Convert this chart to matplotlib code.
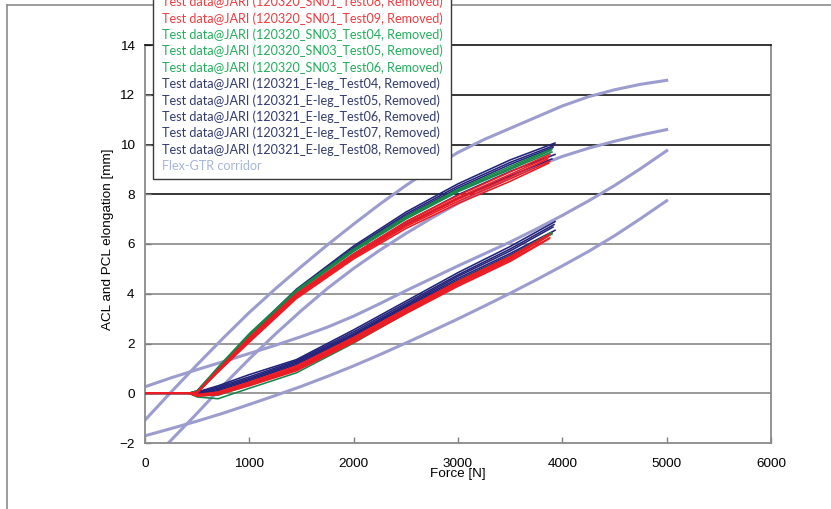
import matplotlib.pyplot as plt
from matplotlib.lines import Line2D
from matplotlib.patches import Rectangle

plt.rcParams["font.family"] = ["Liberation Sans", "DejaVu Sans"]

# force points shared by the test curves [N]
force = [0, 420, 500, 700, 1000, 1450, 2000, 2500, 3000, 3500, 3900]

test_labels = [
    "Test data@JARI (120320_SN01_Test05, Removed)",
    "Test data@JARI (120320_SN01_Test06, Removed)",
    "Test data@JARI (120320_SN01_Test07, Removed)",
    "Test data@JARI (120320_SN01_Test08, Removed)",
    "Test data@JARI (120320_SN01_Test09, Removed)",
    "Test data@JARI (120320_SN03_Test04, Removed)",
    "Test data@JARI (120320_SN03_Test05, Removed)",
    "Test data@JARI (120320_SN03_Test06, Removed)",
    "Test data@JARI (120321_E-leg_Test04, Removed)",
    "Test data@JARI (120321_E-leg_Test05, Removed)",
    "Test data@JARI (120321_E-leg_Test06, Removed)",
    "Test data@JARI (120321_E-leg_Test07, Removed)",
    "Test data@JARI (120321_E-leg_Test08, Removed)",
]
groups = ["red"] * 5 + ["green"] * 3 + ["navy"] * 5
end_force = [3880, 3870, 3860, 3880, 3870, 3900, 3890, 3900, 3930, 3920, 3910, 3930, 3900]

# ACL elongation [mm]
acl = [
    [0, 0, 0.05, 0.95, 2.25, 4.0, 5.6, 6.9, 7.95, 8.9, 9.6],
    [0, 0, 0.04, 0.93, 2.2, 3.95, 5.55, 6.82, 7.87, 8.8, 9.5],
    [0, 0, 0.03, 0.9, 2.15, 3.9, 5.5, 6.75, 7.8, 8.7, 9.42],
    [0, 0, 0.02, 0.88, 2.1, 3.85, 5.45, 6.7, 7.72, 8.62, 9.33],
    [0, 0, 0.01, 0.85, 2.05, 3.8, 5.4, 6.62, 7.63, 8.52, 9.25],
    [0, 0, 0.1, 1.05, 2.4, 4.15, 5.8, 7.1, 8.2, 9.12, 9.82],
    [0, 0, 0.08, 1.0, 2.35, 4.1, 5.75, 7.05, 8.15, 9.05, 9.76],
    [0, 0, 0.06, 0.98, 2.3, 4.05, 5.7, 7.0, 8.1, 9.0, 9.7],
    [0, 0, 0.1, 1.0, 2.35, 4.18, 5.92, 7.28, 8.42, 9.38, 10.06],
    [0, 0, 0.08, 0.98, 2.3, 4.12, 5.85, 7.2, 8.33, 9.28, 9.96],
    [0, 0, 0.06, 0.96, 2.28, 4.08, 5.8, 7.13, 8.25, 9.2, 9.88],
    [0, 0, 0.04, 0.92, 2.2, 3.95, 5.6, 6.88, 7.98, 8.92, 9.6],
    [0, 0, 0.02, 0.88, 2.12, 3.88, 5.5, 6.78, 7.82, 8.74, 9.42],
]

# PCL elongation [mm]
pcl = [
    [0, 0, -0.05, 0.05, 0.45, 1.1, 2.25, 3.4, 4.5, 5.5, 6.4],
    [0, 0, -0.08, 0.0, 0.4, 1.05, 2.2, 3.35, 4.45, 5.45, 6.35],
    [0, 0, -0.1, 0.0, 0.4, 1.0, 2.15, 3.3, 4.4, 5.4, 6.3],
    [0, 0, -0.1, -0.05, 0.35, 0.95, 2.1, 3.25, 4.35, 5.35, 6.25],
    [0, 0, -0.12, -0.05, 0.3, 0.9, 2.05, 3.2, 4.3, 5.3, 6.2],
    [0, 0, -0.15, -0.22, 0.2, 0.82, 2.02, 3.22, 4.42, 5.45, 6.4],
    [0, 0, -0.1, -0.08, 0.32, 0.95, 2.15, 3.3, 4.5, 5.5, 6.45],
    [0, 0, -0.08, 0.0, 0.4, 1.0, 2.2, 3.35, 4.5, 5.5, 6.45],
    [0, 0, 0.05, 0.3, 0.75, 1.35, 2.55, 3.7, 4.85, 5.9, 6.9],
    [0, 0, 0.02, 0.25, 0.66, 1.3, 2.47, 3.62, 4.76, 5.8, 6.78],
    [0, 0, 0.0, 0.2, 0.6, 1.25, 2.4, 3.55, 4.7, 5.72, 6.68],
    [0, 0, 0.0, 0.15, 0.55, 1.2, 2.35, 3.5, 4.62, 5.62, 6.55],
    [0, 0, -0.02, 0.1, 0.5, 1.15, 2.3, 3.45, 4.55, 5.55, 6.45],
]

# Flex-GTR corridor, four bounds, read every 250 N
cor_x = [0, 250, 500, 750, 1000, 1250, 1500, 1750, 2000, 2250, 2500,
         2750, 3000, 3250, 3500, 3750, 4000, 4250, 4500, 4750, 5000]
cor_a_y = [-1.08, 0.05, 1.15, 2.22, 3.25, 4.2, 5.1, 5.97, 6.8, 7.6, 8.35,
           9.05, 9.68, 10.2, 10.65, 11.1, 11.55, 11.92, 12.2, 12.42, 12.58]
cor_c_y = [0.26, 0.62, 0.95, 1.27, 1.6, 1.93, 2.28, 2.66, 3.1, 3.6, 4.12,
           4.62, 5.12, 5.6, 6.08, 6.6, 7.15, 7.73, 8.35, 9.03, 9.75]
cor_d_y = [-1.71, -1.42, -1.12, -0.8, -0.45, -0.09, 0.28, 0.68, 1.1, 1.55, 2.02,
           2.5, 2.99, 3.5, 4.02, 4.56, 5.12, 5.7, 6.33, 7.02, 7.74]
cor_b_x = [224, 500, 750, 1000, 1250, 1500, 1750, 2000, 2250, 2500,
           2750, 3000, 3250, 3500, 3750, 4000, 4250, 4500, 4750, 5000]
cor_b_y = [-2.0, -0.8, 0.32, 1.38, 2.38, 3.33, 4.22, 5.02, 5.75, 6.42,
           7.05, 7.63, 8.17, 8.67, 9.12, 9.52, 9.85, 10.13, 10.38, 10.6]

line_colors = {"red": "#ED1C24", "green": "#17864A", "navy": "#22227A"}
text_colors = {"red": "#F03C40", "green": "#22AE5C", "navy": "#323A6C"}
corridor_color = "#9C9CCF"

W, H = 831, 509
fig = plt.figure(figsize=(W / 100, H / 100), dpi=100)
ax = fig.add_axes([145 / W, 1 - 443 / H, 626 / W, 398 / H])

# outer chart-area frame, only its left and top edges fall inside the picture
fig.add_artist(Line2D([7 / W, 7 / W], [0, 1 - 5 / H], transform=fig.transFigure, color="#8C8C8C", lw=1.2))
fig.add_artist(Line2D([7 / W, 1], [1 - 5 / H, 1 - 5 / H], transform=fig.transFigure, color="#8C8C8C", lw=1.2))

for yv in range(0, 14, 2):
    ax.axhline(yv, color="black" if yv >= 8 else "#7F7F7F", lw=1.1, zorder=1)

for cx, cy in [(cor_x, cor_a_y), (cor_b_x, cor_b_y), (cor_x, cor_c_y), (cor_x, cor_d_y)]:
    ax.plot(cx, cy, color=corridor_color, lw=2.2, zorder=2)

# navy first, red on top
for g in ["navy", "green", "red"]:
    for i in range(len(test_labels)):
        if groups[i] != g:
            continue
        fx = force[:-1] + [end_force[i]]
        ax.plot(fx, acl[i], color=line_colors[g], lw=1.15, zorder=3)
        ax.plot(fx, pcl[i], color=line_colors[g], lw=1.15, zorder=3)

ax.set_xlim(0, 6000)
ax.set_ylim(-2, 14)
ax.set_xticks(range(0, 6001, 1000))
ax.set_yticks(range(-2, 15, 2))
ax.tick_params(axis="both", direction="in", length=4, width=1, color="#808080",
               labelsize=9.7, labelcolor="black")
ax.tick_params(axis="x", pad=10.5)
ax.tick_params(axis="y", pad=7.5)
for s in ["left", "bottom", "right"]:
    ax.spines[s].set_color("#8A8A8A")
    ax.spines[s].set_linewidth(1.3)
ax.spines["top"].set_color("black")
ax.spines["top"].set_linewidth(1.1)

ax.set_xlabel("Force [N]", fontsize=9.7)
ax.xaxis.set_label_coords(0.5, -0.064)
ax.set_ylabel("ACL and PCL elongation [mm]", fontsize=9.7)
ax.yaxis.set_label_coords(-0.05, 0.512)

# legend box (its top runs past the figure edge)
fig.patches.append(Rectangle((153 / W, 1 - 179 / H), (451 - 153) / W, 0.5, transform=fig.transFigure,
                             facecolor="white", edgecolor="#3A3A3A", lw=1.0, zorder=5))
entries = [(lab, text_colors[g]) for lab, g in zip(test_labels, groups)]
entries.append(("Flex-GTR corridor", "#A7B5DA"))
n = len(entries)
for k, (lab, c) in enumerate(entries):
    yc = 166 - (n - 1 - k) * 16.4
    if yc < -5:
        # entries above the top edge are not in the picture
        continue
    fig.text(162 / W, 1 - yc / H, lab, color=c, fontsize=9.1, family=["Lato", "DejaVu Sans"],
             va="center", ha="left", zorder=6)

fig.savefig("out.png", dpi=100)
